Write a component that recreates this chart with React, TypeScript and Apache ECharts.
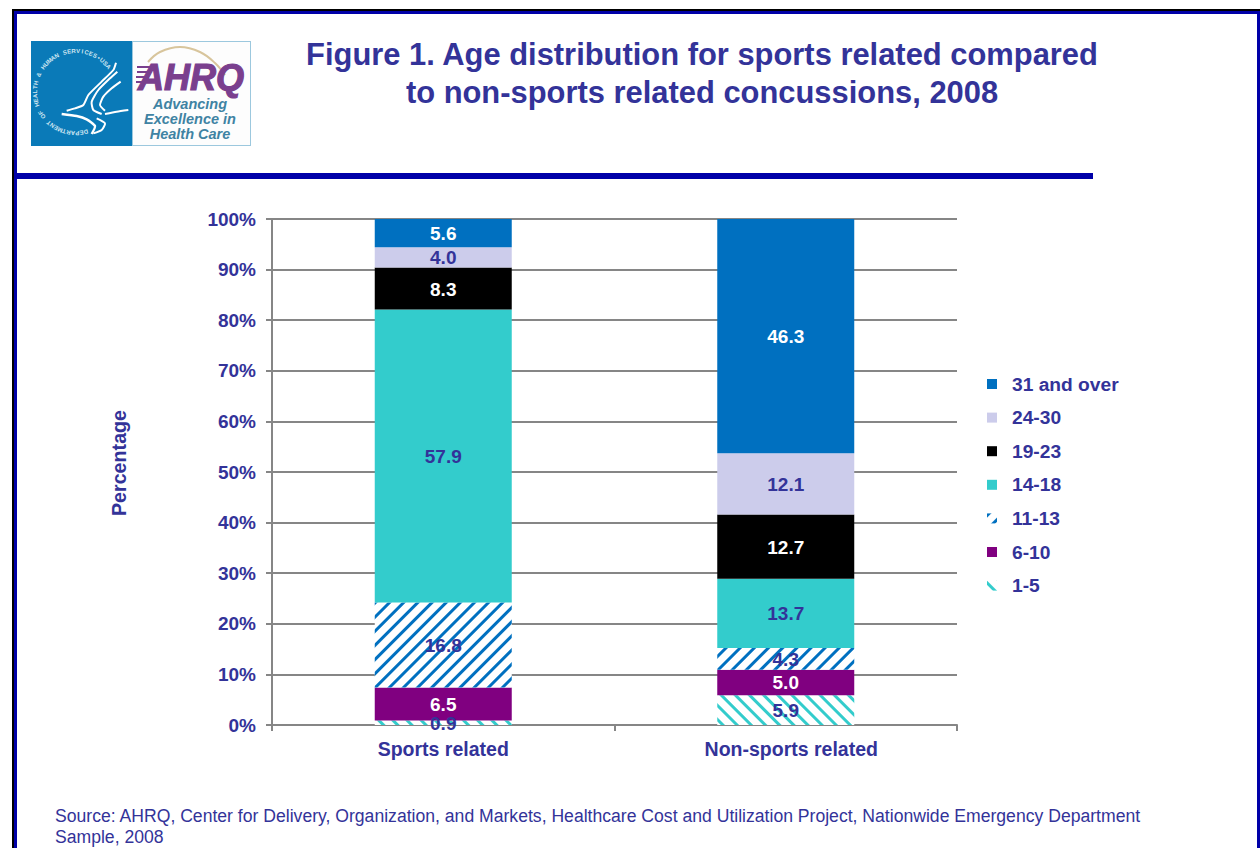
import React, { useEffect, useRef } from "react";
import * as echarts from "echarts";

const categories = ["Sports related", "Non-sports related"];
const ages1to5 = [0.9, 5.9];
const ages6to10 = [6.5, 5.0];
const ages11to13 = [16.8, 4.3];
const ages14to18 = [57.9, 13.7];
const ages19to23 = [8.3, 12.7];
const ages24to30 = [4.0, 12.1];
const ages31plus = [5.6, 46.3];
const legendOrder = ["31 and over", "24-30", "19-23", "14-18", "11-13", "6-10", "1-5"];
const TITLE = "Figure 1. Age distribution for sports related compared\nto non-sports related concussions, 2008";
const SOURCE = "Source: AHRQ, Center for Delivery, Organization, and Markets, Healthcare Cost and Utilization Project, Nationwide Emergency Department\nSample, 2008";
const SEAL = "DEPARTMENT OF HEALTH & HUMAN SERVICES\u2022USA";

const INK = "#333399";
const GREY = "#868686";
const FONT = "'Liberation Sans', Arial, sans-serif";

function stripes(color: string, rotation: number) {
  return { symbol: "rect", symbolSize: 1, dashArrayX: [1, 0], dashArrayY: [3, 6.5], rotation, color };
}

function bar(name: string, data: number[], color: string, labelColor: string, decal?: any) {
  return {
    name,
    type: "bar",
    stack: "age",
    barWidth: "40%",
    data,
    itemStyle: { color, decal: decal || null, borderWidth: 0 },
    label: {
      show: true,
      position: "inside",
      offset: [0, 0.5],
      color: labelColor,
      fontFamily: FONT,
      fontWeight: "bold",
      fontSize: 19,
      formatter: (p: any) => Number(p.value).toFixed(1),
    },
  };
}

function ribbon(points: number[][], lineWidth = 2) {
  return {
    type: "polyline",
    silent: true,
    shape: { points: points.map(([x, y]) => [30 + x / 3, 40 + y / 3]), smooth: 0.2 },
    style: { stroke: "#ffffff", fill: "none", lineWidth },
  };
}

function sealLetters() {
  const cx = 76, cy = 92, r = 41;
  const start = 166, span = 246;
  const chars = SEAL.split("");
  return chars.map((ch, i) => {
    const deg = start + (span * i) / (chars.length - 1);
    const a = (deg * Math.PI) / 180;
    return {
      type: "text",
      silent: true,
      x: cx + r * Math.sin(a),
      y: cy - r * Math.cos(a),
      rotation: -a,
      style: { text: ch, fill: "#cfe6f2", font: `bold 6px ${FONT}`, align: "center", verticalAlign: "middle" },
    };
  });
}

function rect(x: number, y: number, width: number, height: number, fill: string) {
  return { type: "rect", silent: true, shape: { x, y, width, height }, style: { fill } };
}

function logo() {
  const purple = "#7a3f8e";
  const teal = "#3f83a3";
  const caption = (text: string, y: number) => ({
    type: "text",
    silent: true,
    x: 190,
    y,
    style: { text, fill: teal, font: `italic bold 14.5px ${FONT}`, align: "center", verticalAlign: "middle" },
  });
  return [
    rect(31, 41, 101, 105, "#0a7ab8"),
    rect(132, 41, 119, 105, "#9cc8de"),
    rect(133, 42, 117, 103, "#fdfdfd"),
    ribbon([[258, 68], [250, 90], [215, 125], [175, 165], [160, 195], [135, 205], [110, 212]]),
    ribbon([[262, 95], [240, 115], [205, 150], [185, 185], [190, 210], [215, 222]]),
    ribbon([[272, 125], [245, 145], [220, 170], [210, 195], [225, 212]]),
    ribbon([[95, 222], [140, 228], [170, 238], [195, 258], [185, 282]], 2.4),
    ribbon([[200, 235], [225, 250], [215, 270], [190, 280]]),
    ribbon([[225, 222], [260, 215], [295, 210]]),
    ...sealLetters(),
    {
      type: "polyline",
      silent: true,
      shape: { points: [[148, 62], [160, 52], [180, 47], [200, 52], [215, 63], [225, 75]], smooth: 0.4 },
      style: { stroke: "#d8c59c", fill: "none", lineWidth: 2 },
    },
    {
      type: "text",
      silent: true,
      x: 191,
      y: 77,
      style: {
        text: "AHRQ",
        fill: purple,
        stroke: purple,
        lineWidth: 1.2,
        font: `italic bold 36px ${FONT}`,
        align: "center",
        verticalAlign: "middle",
      },
    },
    rect(137, 66, 15, 2, purple),
    rect(137, 71, 14, 2, purple),
    rect(136, 76, 13, 2, purple),
    rect(136, 81, 12, 2, purple),
    caption("Advancing", 104),
    caption("Excellence in", 119),
    caption("Health Care", 134),
  ];
}

export default function App() {
  const ref = useRef<HTMLDivElement>(null);
  useEffect(() => {
    document.body.style.margin = "0";
    document.documentElement.style.overflow = "hidden";
    const chart = echarts.init(ref.current!, undefined, { renderer: "svg" });
    chart.setOption({
      animation: false,
      backgroundColor: "#ffffff",
      title: {
        text: TITLE,
        left: 697,
        top: 30,
        textAlign: "center",
        textStyle: { color: INK, fontFamily: FONT, fontWeight: "bold", fontSize: 30.9, lineHeight: 38 },
      },
      legend: {
        data: legendOrder,
        orient: "vertical",
        left: 987,
        top: 374,
        padding: 0,
        icon: "rect",
        itemWidth: 10,
        itemHeight: 10,
        itemGap: 13.6,
        itemStyle: { borderWidth: 0 },
        selectedMode: false,
        textStyle: { color: INK, fontFamily: FONT, fontWeight: "bold", fontSize: 19.2, lineHeight: 20, padding: [0, 0, 0, 10] },
      },
      grid: { left: 272, top: 219, width: 685, height: 506, containLabel: false },
      xAxis: {
        type: "category",
        data: categories.map((value, i) => ({ value, textStyle: i === 1 ? { padding: [0, 0, 0, 11] } : {} })),
        axisLine: { lineStyle: { color: GREY, width: 2 } },
        axisTick: { show: true, length: 6, lineStyle: { color: GREY, width: 2 } },
        axisLabel: { color: INK, fontFamily: FONT, fontWeight: "bold", fontSize: 19.5, margin: 14 },
      },
      yAxis: {
        type: "value",
        min: 0,
        max: 100,
        interval: 10,
        name: "Percentage",
        nameLocation: "middle",
        nameGap: 143,
        nameTextStyle: { color: INK, fontFamily: FONT, fontWeight: "bold", fontSize: 19.7, padding: [0, 0, 0, 18] },
        axisLine: { show: true, lineStyle: { color: GREY, width: 2 } },
        axisTick: { show: true, length: 6, lineStyle: { color: GREY, width: 2 } },
        splitLine: { show: true, lineStyle: { color: GREY, width: 2 } },
        axisLabel: { color: INK, fontFamily: FONT, fontWeight: "bold", fontSize: 19, margin: 16, formatter: "{value}%" },
      },
      series: [
        bar("1-5", ages1to5, "#ffffff", INK, stripes("#33CCCC", Math.PI / 4)),
        bar("6-10", ages6to10, "#800080", "#ffffff"),
        bar("11-13", ages11to13, "#ffffff", INK, stripes("#0070C0", -Math.PI / 4)),
        bar("14-18", ages14to18, "#33CCCC", INK),
        bar("19-23", ages19to23, "#000000", "#ffffff"),
        bar("24-30", ages24to30, "#CCCCEB", INK),
        bar("31 and over", ages31plus, "#0070C0", "#ffffff"),
      ],
      graphic: [
        rect(12, 9, 1248, 2, "#000000"),
        rect(12, 9, 2, 839, "#000000"),
        rect(14, 11, 1246, 3, "#0000a8"),
        rect(14, 11, 3, 837, "#0000a8"),
        rect(1257, 11, 3, 837, "#0000a8"),
        rect(15, 173, 1078, 6, "#0000a8"),
        ...logo(),
        {
          type: "text",
          x: 55,
          y: 805,
          style: { text: SOURCE, fill: INK, font: `17.6px ${FONT}`, lineHeight: 21 },
        },
      ],
    });
    return () => chart.dispose();
  }, []);
  return <div ref={ref} style={{ position: "absolute", left: 0, top: 0, width: 1260, height: 848 }} />;
}
